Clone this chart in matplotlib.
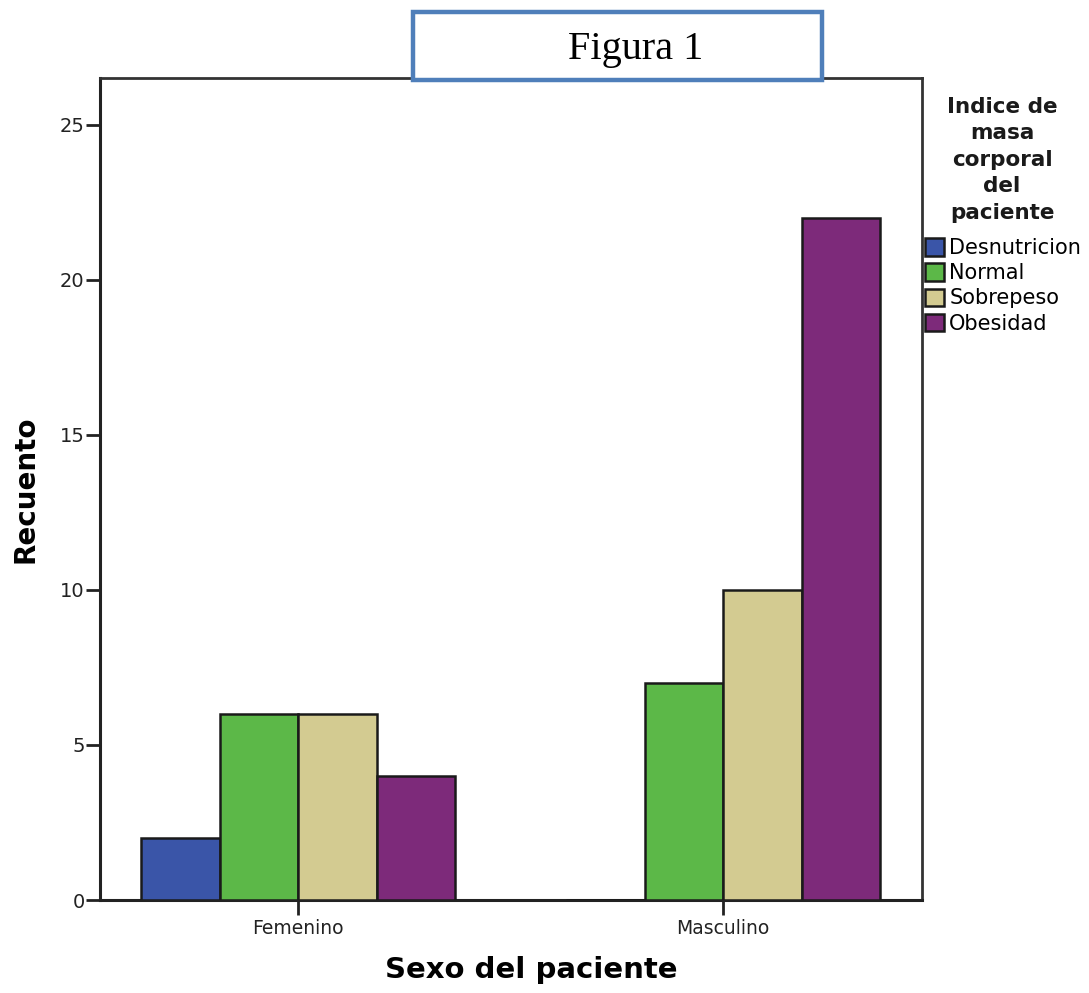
import matplotlib
matplotlib.use("Agg")
import matplotlib.pyplot as plt
from matplotlib.patches import Rectangle
import numpy as np

categories = ["Femenino", "Masculino"]
series_names = ["Desnutricion", "Normal", "Sobrepeso", "Obesidad"]
desnutricion = [2, 0]
normal = [6, 7]
sobrepeso = [6, 10]
obesidad = [4, 22]
series_values = [desnutricion, normal, sobrepeso, obesidad]
colors = ["#3A55A8", "#5CB848", "#D3CB91", "#7D2A7A"]
y_ticks = [0, 5, 10, 15, 20, 25]
legend_title = "Indice de\nmasa\ncorporal\ndel\npaciente"

W, H = 1089, 993
fig = plt.figure(figsize=(W / 100, H / 100), dpi=100)
ax = fig.add_axes([100 / W, 1 - 900 / H, (922 - 100) / W, (900 - 78) / H])

x = np.arange(len(categories))
bw = 0.1847
for i, (name, vals, c) in enumerate(zip(series_names, series_values, colors)):
    offs = (i - 1.5) * bw
    ax.bar(x + offs, vals, width=bw, color=c, edgecolor="#1a1a1a",
           linewidth=1.8, label=name, zorder=3)

ax.set_xlim(-0.466, 1.468)
ax.set_ylim(0, 26.5)
ax.set_yticks(y_ticks)
ax.set_yticklabels([str(t) for t in y_ticks])
ax.set_xticks(x)
ax.set_xticklabels(categories)

for s in ["left", "bottom"]:
    ax.spines[s].set_linewidth(2.2)
    ax.spines[s].set_color("#222222")
for s in ["top", "right"]:
    ax.spines[s].set_linewidth(2.0)
    ax.spines[s].set_color("#333333")

ax.tick_params(axis="y", length=10, width=2, color="#222222", labelsize=14,
               labelcolor="#222222", pad=1)
ax.tick_params(axis="x", length=11, width=2, color="#222222", labelsize=13.5,
               labelcolor="#222222", pad=3)

ax.set_ylabel("Recuento", fontsize=20, fontweight="bold")
ax.yaxis.set_label_coords((40 - 100) / 822, 0.5)
ax.set_xlabel("Sexo del paciente", fontsize=21, fontweight="bold")
ax.xaxis.set_label_coords((531 - 100) / 822, -(956 - 900) / 822)

# legend title as separate text (for line spacing control)
fig.text(1002 / W, 1 - 97 / H, legend_title, ha="center", va="top",
         multialignment="center", fontsize=15.5, fontweight="bold",
         linespacing=1.4, color="#1a1a1a")
leg = ax.legend(loc="upper left", bbox_to_anchor=(922 / W + 0.001, 1 - 236 / H),
                bbox_transform=fig.transFigure, frameon=False, fontsize=15,
                handlelength=0.9, handleheight=0.9,
                handletextpad=0.25, labelspacing=0.25, borderpad=0.1,
                borderaxespad=0)

rect = Rectangle((413 / W, 1 - 80 / H), (822 - 413) / W, (80 - 12) / H,
                 transform=fig.transFigure, facecolor="white",
                 edgecolor="#4F7FBA", linewidth=3.2, zorder=10)
fig.patches.append(rect)
fig.text(636 / W, 1 - 50 / H, "Figura 1", ha="center", va="center",
         fontsize=29, family="Liberation Serif", zorder=11)

fig.savefig("out.png", dpi=100)
